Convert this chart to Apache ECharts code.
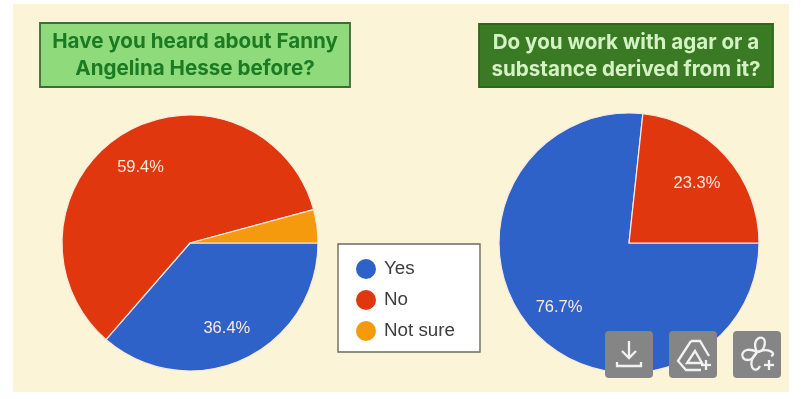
<!DOCTYPE html>
<html><head><meta charset="utf-8">
<style>html,body{margin:0;padding:0;background:#fff}#c{width:801px;height:399px;filter:blur(0.7px)}</style>
<script src="https://cdn.jsdelivr.net/npm/echarts@6/dist/echarts.min.js"></script>
</head><body><div id="c"></div>
<script>
const categories = ['Yes', 'No', 'Not sure'];
const heardValues = [36.4, 59.4, 4.2];
const agarValues = [76.7, 23.3];
const heardLabels = ['36.4%', '59.4%', ''];
const agarLabels = ['76.7%', '23.3%'];
const colors = ['#2f62c8', '#e0370f', '#f59a0c'];
const titleLeft = 'Have you heard about Fanny\nAngelina Hesse before?';
const titleRight = 'Do you work with agar or a\nsubstance derived from it?';

const chart = echarts.init(document.getElementById('c'), null, {renderer: 'canvas'});
const pie = (vals, center, r) => ({
  type: 'pie', center, radius: [0, r], startAngle: 0, clockwise: true, silent: true, animation: false,
  label: {show: false}, labelLine: {show: false},
  itemStyle: {borderColor: '#fbe9e0', borderWidth: 1.2},
  data: vals.map((v, i) => ({name: categories[i], value: v, itemStyle: {color: colors[i]}}))
});
const labelPie = (vals, labs, center, r) => ({
  type: 'pie', center, radius: [r * 0.38, r], startAngle: 0, clockwise: true, silent: true, animation: false,
  legendHoverLink: false,
  itemStyle: {color: 'transparent', borderWidth: 0},
  labelLine: {show: false},
  label: {show: true, position: 'inside', offset: [-1, 2], color: '#fde9dc', fontFamily: 'Liberation Sans', fontSize: 16.5,
    formatter: p => labs[p.dataIndex]},
  data: vals.map((v, i) => ({name: categories[i] + ' label', value: v, itemStyle: {color: 'transparent'}}))
});
const titleBox = (x, y, w, h, fill, stroke, txtColor, txt) => ([
  {type: 'rect', z: 5, shape: {x, y, width: w, height: h}, style: {fill, stroke, lineWidth: 1.8}},
  {type: 'text', z: 6, x: x + w / 2, y: y + h / 2 + 0.5, style: {text: txt, fill: txtColor, align: 'center', verticalAlign: 'middle',
    font: 'bold 20.6px Inter', lineHeight: 27}}
]);
const stroke = {fill: 'none', stroke: '#f2f2f2', lineWidth: 2.3};
const poly = (pts, closed) => ({type: closed ? 'polygon' : 'polyline', z: 9, shape: {points: pts}, style: stroke});
const bez = (x1, y1, cx1, cy1, cx2, cy2, x2, y2) => ({type: 'bezierCurve', z: 9, shape: {x1, y1, cpx1: cx1, cpy1: cy1, cpx2: cx2, cpy2: cy2, x2, y2}, style: stroke});
const btnBg = x => ({type: 'rect', z: 8, shape: {x, y: 331, width: 48, height: 47, r: 4}, style: {fill: '#858585'}});
const plus = (x, y) => [poly([[x - 5, y], [x + 5, y]]), poly([[x, y - 5], [x, y + 5]])];
const downloadIcon = x => [
  poly([[x + 24, 341], [x + 24, 358]]),
  poly([[x + 17, 351], [x + 24, 358], [x + 31, 351]]),
  poly([[x + 12, 362], [x + 12, 366], [x + 36, 366], [x + 36, 362]])
];
const driveIcon = x => [
  poly([[x + 22, 341], [x + 31, 341], [x + 40, 356]]),
  poly([[x + 22, 341], [x + 9, 361], [x + 17, 370], [x + 32, 370]]),
  poly([[x + 26, 351], [x + 18, 363], [x + 33, 363]], true),
  ...plus(x + 37, 365)
];
const fanIcon = x => [
  bez(x + 24, 352, x + 16, 336, x + 36, 332, x + 31, 347),
  bez(x + 31, 347, x + 30, 350, x + 27, 352, x + 24, 352),
  bez(x + 24, 352, x + 36, 347, x + 44, 354, x + 38, 356),
  bez(x + 24, 352, x + 8, 344, x + 5, 360, x + 15, 360),
  bez(x + 15, 360, x + 19, 360, x + 22, 356, x + 24, 352),
  bez(x + 24, 352, x + 12, 364, x + 22, 376, x + 27, 366),
  ...plus(x + 36, 365)
];

chart.setOption({
  animation: false,
  backgroundColor: '#fff',
  legend: {
    orient: 'vertical', left: 347, top: 253, itemWidth: 20, itemHeight: 20, itemGap: 11,
    padding: [6, 20, 6, 9], icon: 'circle', selectedMode: false,
    data: categories,
    itemStyle: {borderWidth: 0},
    textStyle: {fontFamily: 'Liberation Sans', fontSize: 18.8, lineHeight: 20, color: '#3d3d3d', padding: [0, 0, 0, 3]},
    z: 7
  },
  color: colors,
  graphic: {elements: [
    {type: 'rect', z: -1, silent: true, shape: {x: 13, y: 4, width: 776, height: 388}, style: {fill: '#fcf4d6'}},
    {type: 'rect', z: 1, shape: {x: 338, y: 244, width: 142, height: 108}, style: {fill: '#fff', stroke: '#6b6b60', lineWidth: 1.4}},
    ...titleBox(40, 23, 310, 64, '#8fdb7c', '#3e6b38', '#1c7a22', titleLeft),
    ...titleBox(479, 24, 294, 63, '#3b7a25', '#2f661c', '#d5f2c4', titleRight),
    btnBg(605), ...downloadIcon(605),
    btnBg(669), ...driveIcon(669),
    btnBg(733), ...fanIcon(733)
  ]},
  series: [
    pie(heardValues, [190, 243], 128),
    pie(agarValues, [629, 243], 130),
    labelPie(heardValues, heardLabels, [190, 243], 128),
    labelPie(agarValues, agarLabels, [629, 243], 130)
  ]
});
</script></body></html>
